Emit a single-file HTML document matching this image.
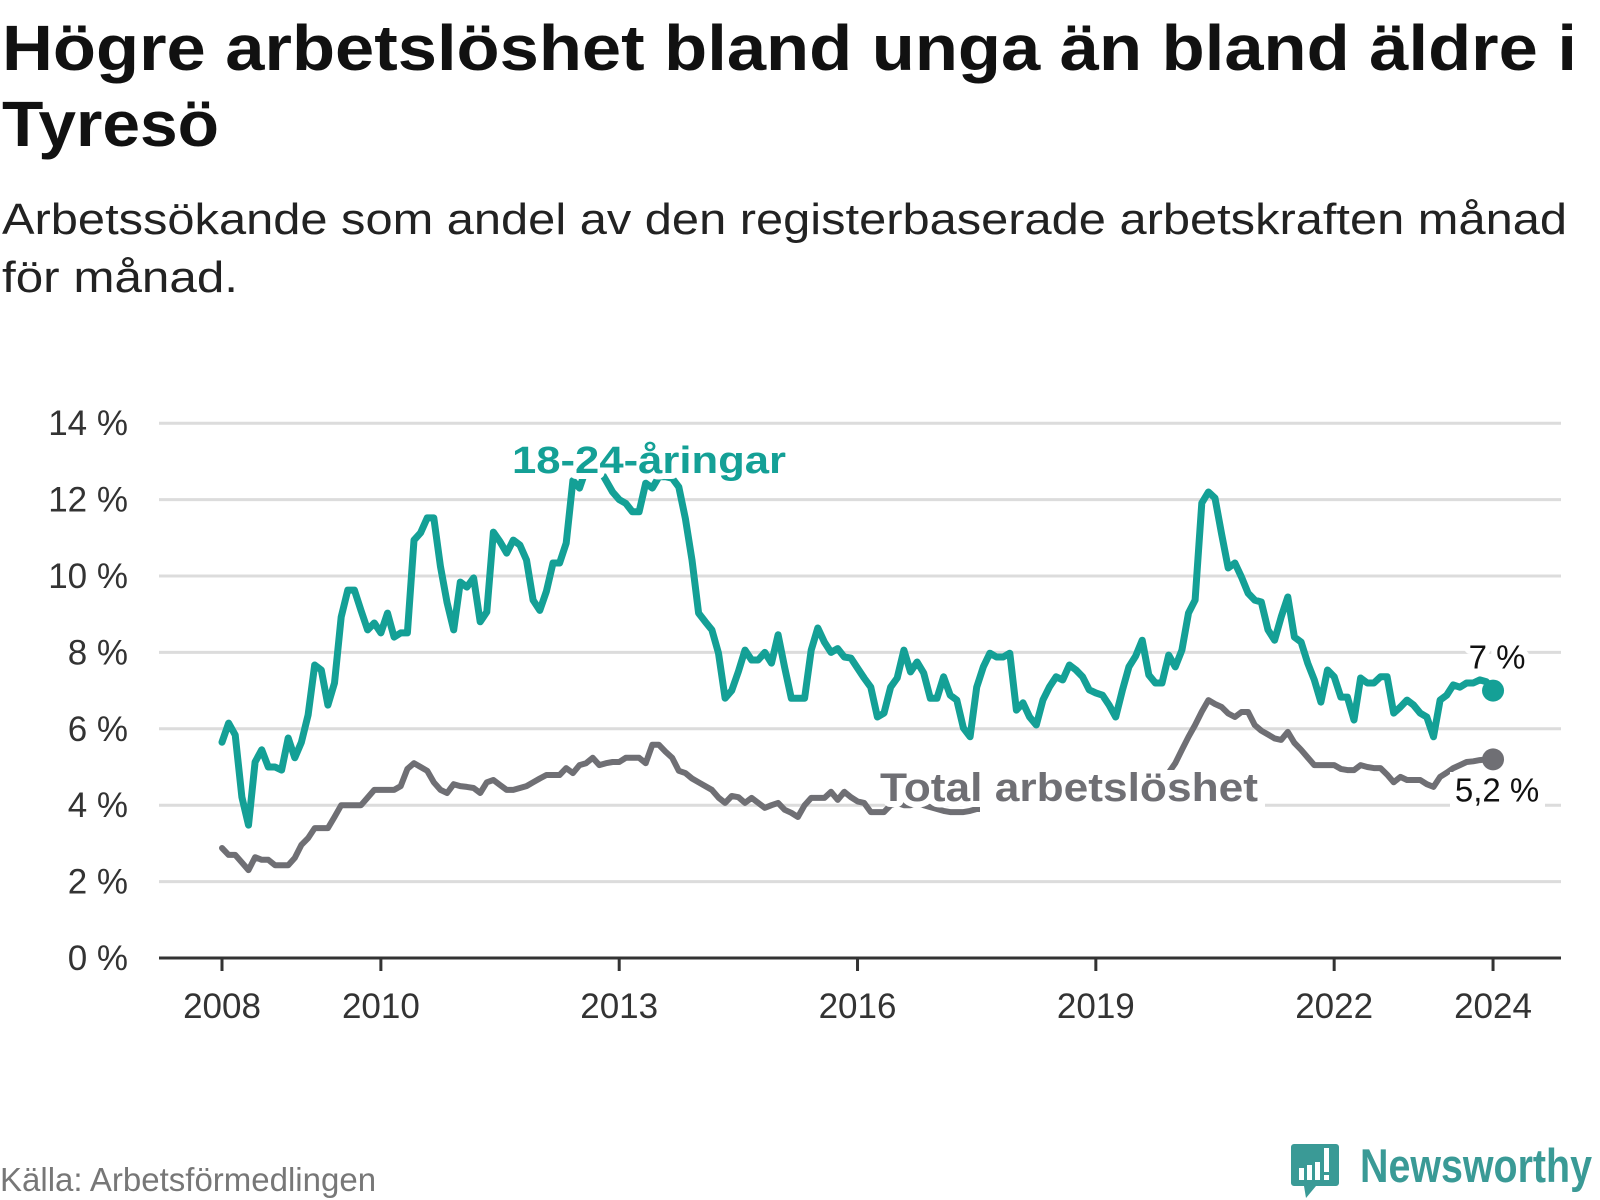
<!DOCTYPE html>
<html><head><meta charset="utf-8"><style>
html,body{margin:0;padding:0;background:#fff;width:1600px;height:1200px;overflow:hidden}
svg{display:block}
text{font-family:"Liberation Sans",sans-serif}
</style></head><body>
<svg id="chart" width="1600" height="1200" viewBox="0 0 1600 1200" xmlns="http://www.w3.org/2000/svg">
<text x="2" y="70" font-size="64" font-weight="bold" fill="#111" textLength="1575" lengthAdjust="spacingAndGlyphs">Högre arbetslöshet bland unga än bland äldre i</text>
<text x="2" y="146" font-size="64" font-weight="bold" fill="#111" textLength="217" lengthAdjust="spacingAndGlyphs">Tyresö</text>
<text x="2" y="234" font-size="44" fill="#222" textLength="1565" lengthAdjust="spacingAndGlyphs">Arbetssökande som andel av den registerbaserade arbetskraften månad</text>
<text x="2" y="292" font-size="44" fill="#222" textLength="236" lengthAdjust="spacingAndGlyphs">för månad.</text>
<g id="grid"></g>
<g id="yticks"></g>
<g id="xaxis"></g>
<g id="series"></g>
<g id="labels"></g>
<text x="0" y="1191" font-size="33" fill="#777">Källa: Arbetsförmedlingen</text>
<g>
<path d="M1294 1144 h42 a3 3 0 0 1 3 3 v36 a3 3 0 0 1 -3 3 h-20 l-10 12 l-2 -12 h-10 a3 3 0 0 1 -3 -3 v-36 a3 3 0 0 1 3 -3z" fill="#3a9a96"/>
<rect x="1299" y="1168" width="5" height="12" fill="#fff"/>
<rect x="1307" y="1165" width="5" height="15" fill="#fff"/>
<rect x="1315" y="1162" width="5" height="18" fill="#fff"/>
<rect x="1324" y="1148" width="5" height="24" fill="#fff"/>
<rect x="1324" y="1175" width="5" height="5" fill="#fff"/>
<text x="1360" y="1182" font-size="47" font-weight="bold" fill="#3a9a96" textLength="232" lengthAdjust="spacingAndGlyphs">Newsworthy</text>
</g>
</svg>
<script>
const yTicks = [0, 2, 4, 6, 8, 10, 12, 14];
const yTickLabels = ["0 %", "2 %", "4 %", "6 %", "8 %", "10 %", "12 %", "14 %"];
const xTickMonths = [0, 24, 60, 96, 132, 168, 192];
const xTickLabels = ["2008", "2010", "2013", "2016", "2019", "2022", "2024"];
const youthValues = [5.65,6.15,5.84,4.21,3.48,5.13,5.45,5.0,5.0,4.92,5.76,5.24,5.65,6.36,7.67,7.54,6.62,7.2,8.93,9.63,9.63,9.1,8.59,8.77,8.51,9.03,8.40,8.51,8.51,10.94,11.13,11.52,11.52,10.24,9.3,8.59,9.84,9.71,9.95,8.8,9.06,11.15,10.9,10.6,10.94,10.81,10.42,9.37,9.1,9.6,10.34,10.34,10.86,12.5,12.3,12.8,13.0,12.8,12.5,12.2,12.0,11.9,11.68,11.68,12.43,12.3,12.6,12.6,12.56,12.33,11.5,10.42,9.03,8.8,8.59,7.98,6.8,7.0,7.5,8.06,7.8,7.8,8.0,7.72,8.46,7.6,6.8,6.8,6.8,8.06,8.64,8.27,8.0,8.1,7.88,7.85,7.59,7.33,7.09,6.31,6.41,7.09,7.33,8.06,7.49,7.75,7.46,6.8,6.8,7.36,6.88,6.75,6.02,5.79,7.09,7.62,7.98,7.88,7.88,7.98,6.49,6.68,6.31,6.1,6.75,7.1,7.36,7.28,7.67,7.54,7.36,7.02,6.94,6.88,6.62,6.31,7.0,7.62,7.9,8.32,7.41,7.2,7.2,7.93,7.62,8.06,9.03,9.37,11.91,12.2,12.04,11.1,10.21,10.34,9.97,9.55,9.37,9.32,8.59,8.32,8.93,9.45,8.4,8.27,7.72,7.28,6.7,7.54,7.36,6.83,6.83,6.23,7.33,7.2,7.2,7.36,7.36,6.41,6.57,6.75,6.62,6.41,6.31,5.79,6.75,6.88,7.15,7.09,7.2,7.2,7.28,7.23,7.0];
const totalValues = [2.88,2.7,2.7,2.5,2.3,2.64,2.57,2.57,2.43,2.43,2.43,2.62,2.96,3.14,3.4,3.4,3.4,3.69,4.0,4.0,4.0,4.0,4.2,4.4,4.4,4.4,4.4,4.5,4.95,5.1,5.0,4.9,4.6,4.4,4.32,4.55,4.5,4.48,4.45,4.32,4.6,4.66,4.53,4.4,4.4,4.45,4.5,4.6,4.7,4.79,4.79,4.79,4.97,4.84,5.05,5.1,5.24,5.05,5.1,5.13,5.13,5.24,5.24,5.24,5.1,5.58,5.58,5.4,5.24,4.9,4.84,4.7,4.6,4.5,4.4,4.2,4.06,4.24,4.21,4.06,4.19,4.06,3.93,4.0,4.06,3.88,3.8,3.69,4.0,4.19,4.19,4.19,4.35,4.14,4.35,4.21,4.1,4.06,3.82,3.82,3.82,4.0,4.06,4.0,4.0,4.06,4.0,3.95,3.9,3.85,3.82,3.82,3.82,3.85,3.9,3.9,3.95,3.95,3.9,3.95,4.0,4.0,3.95,3.95,4.0,3.95,3.9,3.95,4.0,3.95,3.9,3.9,3.85,3.85,3.9,3.95,4.0,4.0,4.05,4.1,4.2,4.35,4.6,4.85,5.1,5.45,5.79,6.1,6.45,6.75,6.65,6.57,6.4,6.31,6.44,6.44,6.1,5.95,5.85,5.75,5.71,5.92,5.63,5.45,5.25,5.05,5.05,5.05,5.05,4.95,4.92,4.92,5.05,5.0,4.97,4.97,4.8,4.6,4.74,4.66,4.66,4.66,4.55,4.48,4.74,4.85,4.97,5.05,5.13,5.15,5.18,5.2,5.2];
const endLabels = ["7 %", "5,2 %"];

const NS = "http://www.w3.org/2000/svg";
const X0 = 222, MSTEP = 6.62, Y0 = 958, YSTEP = 38.2;
function xs(m){ return X0 + m * MSTEP; }
function ys(v){ return Y0 - v * YSTEP; }
function mk(tag, parent){ const e = document.createElementNS(NS, tag); parent.appendChild(e); return e; }

const grid = document.getElementById('grid');
const yt = document.getElementById('yticks');
yTicks.forEach((v, i) => {
  if (v > 0) {
    const l = mk('line', grid);
    
    
    l.setAttribute('x1', 159); l.setAttribute('x2', 1561);
    l.setAttribute('y1', ys(v)); l.setAttribute('y2', ys(v));
    l.setAttribute('stroke', '#dcdcdc'); l.setAttribute('stroke-width', 3);
  }
  const t = mk('text', yt);
  
  
  t.setAttribute('x', 128); t.setAttribute('y', ys(v) + 12);
  t.setAttribute('text-anchor', 'end'); t.setAttribute('font-size', 35); t.setAttribute('fill', '#333');
  t.textContent = yTickLabels[i];
});

const xa = document.getElementById('xaxis');
const axis = mk('line', xa);


axis.setAttribute('x1', 159); axis.setAttribute('x2', 1561);
axis.setAttribute('y1', Y0); axis.setAttribute('y2', Y0);
axis.setAttribute('stroke', '#333'); axis.setAttribute('stroke-width', 3);
xTickMonths.forEach((m, i) => {
  const tk = mk('line', xa);
  
  
  tk.setAttribute('x1', xs(m)); tk.setAttribute('x2', xs(m));
  tk.setAttribute('y1', Y0); tk.setAttribute('y2', Y0 + 13);
  tk.setAttribute('stroke', '#333'); tk.setAttribute('stroke-width', 3);
  const t = mk('text', xa);
  
  
  t.setAttribute('x', xs(m)); t.setAttribute('y', 1018);
  t.setAttribute('text-anchor', 'middle'); t.setAttribute('font-size', 35); t.setAttribute('fill', '#333');
  t.textContent = xTickLabels[i];
});

const sg = document.getElementById('series');
function drawLine(vals, color, w, name){
  const p = mk('path', sg);
  
  
  p.setAttribute('d', vals.map((v, i) => (i ? 'L' : 'M') + xs(i).toFixed(1) + ' ' + ys(v).toFixed(1)).join(' '));
  p.setAttribute('fill', 'none'); p.setAttribute('stroke', color); p.setAttribute('stroke-width', w);
  p.setAttribute('stroke-linejoin', 'round'); p.setAttribute('stroke-linecap', 'round');
  const c = mk('circle', sg);
  
  
  c.setAttribute('cx', xs(vals.length - 1)); c.setAttribute('cy', ys(vals[vals.length - 1]));
  c.setAttribute('r', 11); c.setAttribute('fill', color);
}
drawLine(totalValues, '#6f6f74', 6, 'total-line');
drawLine(youthValues, '#14a096', 7, 'youth-line');

const lg = document.getElementById('labels');
const bg = mk('rect', lg);


bg.setAttribute('x', 980); bg.setAttribute('y', 770);
bg.setAttribute('width', 285); bg.setAttribute('height', 48);
bg.setAttribute('fill', '#fff');
const bg2 = mk('rect', lg);


bg2.setAttribute('x', 1450); bg2.setAttribute('y', 772);
bg2.setAttribute('width', 95); bg2.setAttribute('height', 40);
bg2.setAttribute('fill', '#fff');
function label(txt, x, y, size, color, bold, name, len){
  const t = mk('text', lg);
  
  
  t.setAttribute('x', x); t.setAttribute('y', y);
  t.setAttribute('text-anchor', 'middle'); t.setAttribute('font-size', size);
  if (bold) t.setAttribute('font-weight', 'bold');
  if (len) { t.setAttribute('textLength', len); t.setAttribute('lengthAdjust', 'spacingAndGlyphs'); }
  t.setAttribute('fill', color); t.setAttribute('stroke', '#fff'); t.setAttribute('stroke-width', 12);
  t.setAttribute('stroke-linejoin', 'round'); t.setAttribute('paint-order', 'stroke');
  t.textContent = txt;
}
label('18-24-åringar', 649, 473, 38, '#14a096', true, 'youth-series-label', 274);
label('Total arbetslöshet', 1069, 801, 40, '#6f6f74', true, 'total-series-label', 378);
const last = youthValues.length - 1;
label(endLabels[0], xs(last) + 4, ys(youthValues[last]) - 22, 33, '#111', false, 'youth-end-value');
label(endLabels[1], xs(last) + 4, ys(totalValues[last]) + 42, 33, '#111', false, 'total-end-value');
</script>
</body></html>
